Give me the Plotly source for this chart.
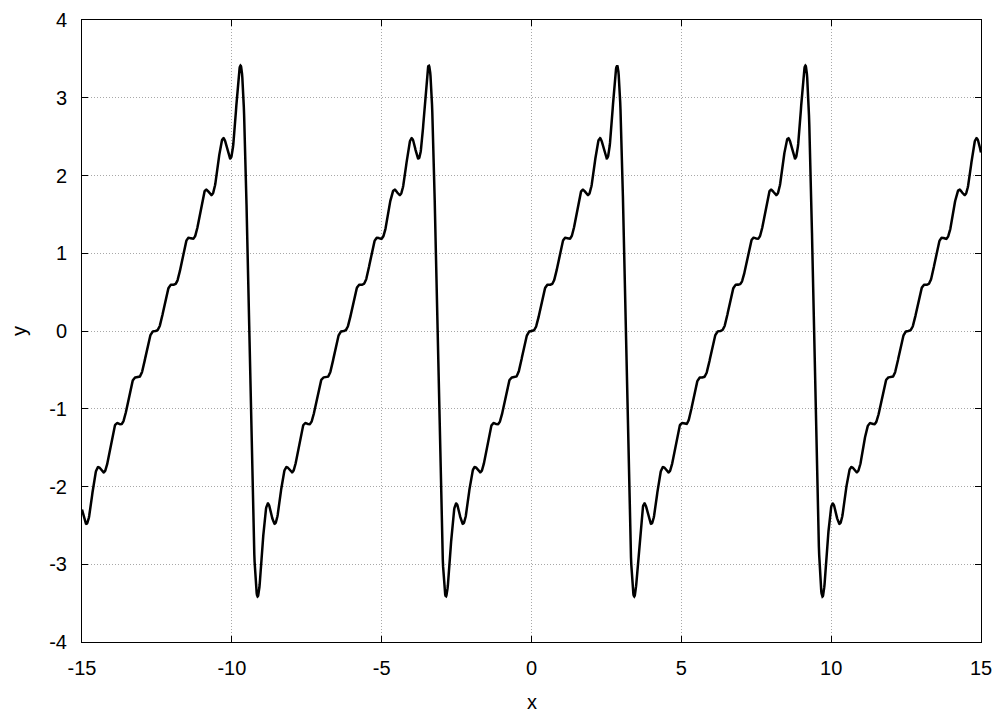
import numpy as np
import plotly.graph_objects as go

# Fourier sine coefficients (harmonics 1..10) of the plotted truncated sawtooth series
harmonics = [1, 2, 3, 4, 5, 6, 7, 8, 9, 10]
amplitudes = [2.0, -1.0, 0.6667, -0.5, 0.4, -0.3333, 0.2857, -0.25, 0.2222, -0.2]

x_range = [-15, 15]
y_range = [-4, 4]
x_ticks = [-15, -10, -5, 0, 5, 10, 15]
y_ticks = [-4, -3, -2, -1, 0, 1, 2, 3, 4]

x = np.linspace(x_range[0], x_range[1], 3001)
y = np.zeros_like(x)
for n, b in zip(harmonics, amplitudes):
    y += b * np.sin(n * x)

fig = go.Figure()
fig.add_trace(go.Scatter(x=x, y=y, mode="lines",
                         line=dict(color="black", width=2.5), showlegend=False))

font = dict(family="Liberation Sans, Arial, sans-serif", size=20, color="black")
axis_common = dict(
    showline=True, linecolor="black", linewidth=1, mirror="ticks",
    ticks="inside", ticklen=6, tickwidth=1, tickcolor="black",
    showgrid=True, gridcolor="#a8a8a8", griddash="1px,2px", gridwidth=1,
    zeroline=False, tickfont=font, automargin=False,
)
fig.update_xaxes(range=x_range, tickvals=x_ticks, ticktext=[str(v) for v in x_ticks],
                 ticklabelstandoff=8, **axis_common)
fig.update_yaxes(range=y_range, tickvals=y_ticks, ticktext=[str(v) for v in y_ticks],
                 ticklabelstandoff=10, **axis_common)

# page body has an 8px margin, so offset the figure accordingly
fig.update_layout(
    width=998, height=708,
    margin=dict(l=74, r=25, t=12, b=74),
    plot_bgcolor="white", paper_bgcolor="white",
    font=font,
    annotations=[
        dict(text="x", xref="paper", yref="paper", x=0.5, y=-0.0965, yanchor="middle",
             showarrow=False, font=font),
        dict(text="y", xref="paper", yref="paper", x=-0.0701, y=0.5, xanchor="center",
             yanchor="middle", textangle=-90, showarrow=False, font=font),
    ],
)
fig.write_html("out.html")
